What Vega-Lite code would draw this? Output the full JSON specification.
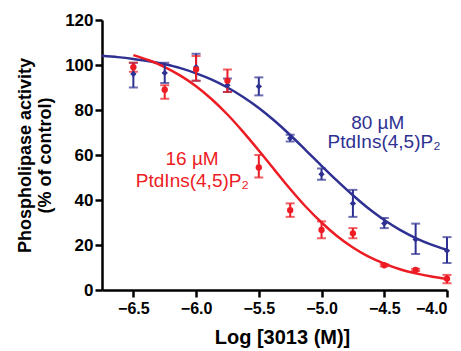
{
  "$schema": "https://vega.github.io/schema/vega-lite/v6.json",
  "width": 345,
  "height": 270,
  "autosize": {"type": "none"},
  "padding": {"left": 102, "top": 20, "right": 14, "bottom": 61},
  "background": "white",
  "config": {
    "view": {"stroke": null},
    "font": "Liberation Sans",
    "axis": {
      "grid": false,
      "domainColor": "black",
      "domainWidth": 2.5,
      "tickColor": "black",
      "tickWidth": 2.5,
      "tickSize": 7,
      "labelFont": "Liberation Sans",
      "labelFontWeight": "bold",
      "labelColor": "black",
      "titleFont": "Liberation Sans",
      "titleFontWeight": "bold",
      "titleColor": "black",
      "titleFontSize": 18
    }
  },
  "datasets": {
    "pts": [
      {"series": "80", "x": -6.5, "y": 96, "lo": 90, "hi": 101},
      {"series": "80", "x": -6.25, "y": 96.5, "lo": 92, "hi": 101},
      {"series": "80", "x": -6.0, "y": 99, "lo": 93, "hi": 105},
      {"series": "80", "x": -5.75, "y": 91, "lo": 88, "hi": 94},
      {"series": "80", "x": -5.5, "y": 90.5, "lo": 86.5, "hi": 94.5},
      {"series": "80", "x": -5.25, "y": 67.5, "lo": 66, "hi": 69},
      {"series": "80", "x": -5.0, "y": 51.5, "lo": 49, "hi": 54},
      {"series": "80", "x": -4.75, "y": 38.5, "lo": 32.5, "hi": 44.5},
      {"series": "80", "x": -4.5, "y": 29.6, "lo": 27.5, "hi": 32},
      {"series": "80", "x": -4.25, "y": 22.5, "lo": 16, "hi": 29.5},
      {"series": "80", "x": -4.0, "y": 17.5, "lo": 12, "hi": 23.5},
      {"series": "16", "x": -6.5, "y": 99, "lo": 97, "hi": 101},
      {"series": "16", "x": -6.25, "y": 89, "lo": 85, "hi": 91},
      {"series": "16", "x": -6.0, "y": 98, "lo": 93, "hi": 104},
      {"series": "16", "x": -5.75, "y": 93, "lo": 88, "hi": 98},
      {"series": "16", "x": -5.5, "y": 54.5, "lo": 50, "hi": 60},
      {"series": "16", "x": -5.25, "y": 35.5, "lo": 32.5, "hi": 38.5},
      {"series": "16", "x": -5.0, "y": 26.7, "lo": 23, "hi": 30.5},
      {"series": "16", "x": -4.75, "y": 25.2, "lo": 23, "hi": 27.5},
      {"series": "16", "x": -4.5, "y": 11, "lo": 10.5, "hi": 11.5},
      {"series": "16", "x": -4.25, "y": 8.9, "lo": 8.4, "hi": 9.4},
      {"series": "16", "x": -4.0, "y": 5, "lo": 3, "hi": 6.7}
    ],
    "curves": [
      {"series": "80", "x": -6.75, "y": 104.1},
      {"series": "80", "x": -6.625, "y": 103.5},
      {"series": "80", "x": -6.5, "y": 102.7},
      {"series": "80", "x": -6.375, "y": 101.7},
      {"series": "80", "x": -6.25, "y": 100.3},
      {"series": "80", "x": -6.125, "y": 98.6},
      {"series": "80", "x": -6.0, "y": 96.3},
      {"series": "80", "x": -5.875, "y": 93.5},
      {"series": "80", "x": -5.75, "y": 90.0},
      {"series": "80", "x": -5.625, "y": 85.8},
      {"series": "80", "x": -5.5, "y": 80.9},
      {"series": "80", "x": -5.375, "y": 75.2},
      {"series": "80", "x": -5.25, "y": 68.9},
      {"series": "80", "x": -5.125, "y": 62.1},
      {"series": "80", "x": -5.0, "y": 55.2},
      {"series": "80", "x": -4.875, "y": 48.5},
      {"series": "80", "x": -4.75, "y": 42.1},
      {"series": "80", "x": -4.625, "y": 36.2},
      {"series": "80", "x": -4.5, "y": 31.1},
      {"series": "80", "x": -4.375, "y": 26.7},
      {"series": "80", "x": -4.25, "y": 23.1},
      {"series": "80", "x": -4.125, "y": 20.2},
      {"series": "80", "x": -4.0, "y": 17.9},
      {"series": "16", "x": -6.5, "y": 104.4},
      {"series": "16", "x": -6.375, "y": 102.1},
      {"series": "16", "x": -6.25, "y": 99.1},
      {"series": "16", "x": -6.125, "y": 95.3},
      {"series": "16", "x": -6.0, "y": 90.6},
      {"series": "16", "x": -5.875, "y": 84.8},
      {"series": "16", "x": -5.75, "y": 78.0},
      {"series": "16", "x": -5.625, "y": 70.3},
      {"series": "16", "x": -5.5, "y": 62.0},
      {"series": "16", "x": -5.375, "y": 53.4},
      {"series": "16", "x": -5.25, "y": 44.9},
      {"series": "16", "x": -5.125, "y": 37.0},
      {"series": "16", "x": -5.0, "y": 30.0},
      {"series": "16", "x": -4.875, "y": 23.9},
      {"series": "16", "x": -4.75, "y": 18.9},
      {"series": "16", "x": -4.625, "y": 14.8},
      {"series": "16", "x": -4.5, "y": 11.7},
      {"series": "16", "x": -4.375, "y": 9.2},
      {"series": "16", "x": -4.25, "y": 7.4},
      {"series": "16", "x": -4.125, "y": 6.0},
      {"series": "16", "x": -4.0, "y": 4.9}
    ],
    "labels": [
      {"series": "80", "x": -4.552, "y": 74.2, "text": "80 µM"},
      {"series": "80", "x": -4.502, "y": 65.6, "text": "PtdIns(4,5)P₂"},
      {"series": "16", "x": -6.032, "y": 58.2, "text": "16 µM"},
      {"series": "16", "x": -6.03, "y": 48.5, "text": "PtdIns(4,5)P₂"}
    ]
  },
  "encoding": {
    "x": {
      "field": "x",
      "type": "quantitative",
      "scale": {"domain": [-6.75, -4.0], "nice": false, "zero": false},
      "axis": {
        "title": "Log [3013 (M)]",
        "values": [-6.5, -6.0, -5.5, -5.0, -4.5, -4.0],
        "format": ".1f",
        "labelFontSize": 16,
        "labelPadding": 3,
        "titlePadding": 11,
        "titleFontSize": 20,
        "titleX": 180
      }
    },
    "y": {
      "field": "y",
      "type": "quantitative",
      "scale": {"domain": [0, 120], "nice": false},
      "axis": {
        "title": ["Phospholipase activity", "(% of control)"],
        "values": [0, 20, 40, 60, 80, 100, 120],
        "labelFontSize": 17,
        "labelPadding": 2,
        "titlePadding": 10,
        "titleLineHeight": 20
      }
    },
    "color": {
      "field": "series",
      "type": "nominal",
      "scale": {"domain": ["16", "80"], "range": ["#ED1C24", "#2E3192"]},
      "legend": null
    }
  },
  "layer": [
    {
      "data": {"name": "curves"},
      "mark": {"type": "line", "strokeWidth": 2.5, "interpolate": "monotone"},
      "encoding": {"detail": {"field": "series"}}
    },
    {
      "data": {"name": "pts"},
      "mark": {"type": "rule", "strokeWidth": 2},
      "encoding": {
        "y": {"field": "lo", "type": "quantitative"},
        "y2": {"field": "hi"}
      }
    },
    {
      "data": {"name": "pts"},
      "mark": {"type": "tick", "orient": "horizontal", "size": 9, "thickness": 2},
      "encoding": {"y": {"field": "lo", "type": "quantitative"}}
    },
    {
      "data": {"name": "pts"},
      "mark": {"type": "tick", "orient": "horizontal", "size": 9, "thickness": 2},
      "encoding": {"y": {"field": "hi", "type": "quantitative"}}
    },
    {
      "data": {"name": "pts"},
      "mark": {"type": "point", "filled": true, "opacity": 1, "size": 40},
      "encoding": {
        "shape": {
          "field": "series",
          "type": "nominal",
          "scale": {"domain": ["16", "80"], "range": ["circle", "diamond"]},
          "legend": null
        }
      }
    },
    {
      "data": {"name": "labels"},
      "mark": {"type": "text", "fontSize": 19, "font": "Liberation Sans", "align": "center", "baseline": "middle"},
      "encoding": {"text": {"field": "text"}}
    }
  ]
}
